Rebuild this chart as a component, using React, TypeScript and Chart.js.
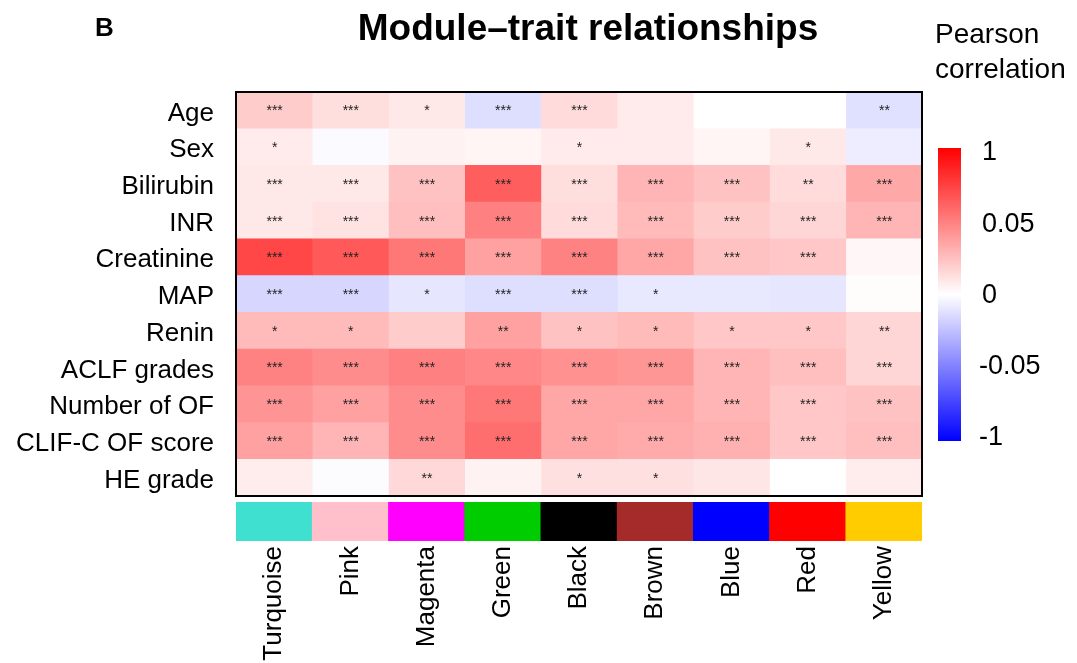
import React, { useEffect, useRef } from 'react';
import { Chart, registerables } from 'chart.js';
Chart.register(...registerables);

const FONT = '"Liberation Sans", Arial, Helvetica, sans-serif';

const modules = ['Turquoise', 'Pink', 'Magenta', 'Green', 'Black', 'Brown', 'Blue', 'Red', 'Yellow'];
const moduleColors = ['#40E0D0', '#FFC0CB', '#FF00FF', '#00CD00', '#000000', '#A52A2A', '#0000FF', '#FF0000', '#FFCC00'];
const traits = ['Age', 'Sex', 'Bilirubin', 'INR', 'Creatinine', 'MAP', 'Renin', 'ACLF grades', 'Number of OF', 'CLIF-C OF score', 'HE grade'];

// colour-scale position (-1 .. 1) of each cell, one array per trait, columns in module order
const corrAge = [0.2, 0.13, 0.09, -0.13, 0.14, 0.08, 0, 0, -0.12];
const corrSex = [0.08, -0.02, 0.05, 0.04, 0.08, 0.08, 0.04, 0.09, -0.07];
const corrBilirubin = [0.09, 0.09, 0.24, 0.63, 0.13, 0.29, 0.24, 0.14, 0.34];
const corrINR = [0.09, 0.11, 0.25, 0.5, 0.14, 0.27, 0.2, 0.16, 0.29];
const corrCreatinine = [0.72, 0.65, 0.53, 0.37, 0.49, 0.35, 0.24, 0.22, 0.03];
const corrMAP = [-0.16, -0.16, -0.1, -0.13, -0.13, -0.09, -0.09, -0.1, 0.01];
const corrRenin = [0.27, 0.27, 0.2, 0.37, 0.24, 0.27, 0.22, 0.22, 0.16];
const corrACLF = [0.49, 0.45, 0.5, 0.47, 0.43, 0.41, 0.29, 0.25, 0.16];
const corrNumOF = [0.42, 0.37, 0.45, 0.53, 0.35, 0.35, 0.29, 0.22, 0.24];
const corrCLIF = [0.37, 0.29, 0.45, 0.57, 0.35, 0.33, 0.31, 0.22, 0.25];
const corrHE = [0.07, -0.01, 0.15, 0.05, 0.12, 0.12, 0.1, 0, 0.07];

const starsAge = ['***', '***', '*', '***', '***', '', '', '', '**'];
const starsSex = ['*', '', '', '', '*', '', '', '*', ''];
const starsBilirubin = ['***', '***', '***', '***', '***', '***', '***', '**', '***'];
const starsINR = ['***', '***', '***', '***', '***', '***', '***', '***', '***'];
const starsCreatinine = ['***', '***', '***', '***', '***', '***', '***', '***', ''];
const starsMAP = ['***', '***', '*', '***', '***', '*', '', '', ''];
const starsRenin = ['*', '*', '', '**', '*', '*', '*', '*', '**'];
const starsACLF = ['***', '***', '***', '***', '***', '***', '***', '***', '***'];
const starsNumOF = ['***', '***', '***', '***', '***', '***', '***', '***', '***'];
const starsCLIF = ['***', '***', '***', '***', '***', '***', '***', '***', '***'];
const starsHE = ['', '', '**', '', '*', '*', '', '', ''];

const colorbarTickLabels = ['1', '0.05', '0', '-0.05', '-1'];
const colorbarTickPositions = [1, 0.5, 0, -0.5, -1];

const corrRows = [corrAge, corrSex, corrBilirubin, corrINR, corrCreatinine, corrMAP, corrRenin, corrACLF, corrNumOF, corrCLIF, corrHE];
const starRows = [starsAge, starsSex, starsBilirubin, starsINR, starsCreatinine, starsMAP, starsRenin, starsACLF, starsNumOF, starsCLIF, starsHE];

function colorFor(t: number): string {
  if (t >= 0) {
    const v = Math.round(255 * (1 - t));
    return `rgb(255,${v},${v})`;
  }
  const v = Math.round(255 * (1 + t));
  return `rgb(${v},${v},255)`;
}

const W = 1077;
const H = 663;

export default function App() {
  const heatRef = useRef<HTMLCanvasElement | null>(null);
  const stripRef = useRef<HTMLCanvasElement | null>(null);

  useEffect(() => {
    const decor = {
      id: 'decor',
      afterDraw(chart: any) {
        const { ctx, chartArea, scales } = chart;
        const xs = scales.x;
        const ys = scales.y;
        ctx.save();
        // stars
        ctx.fillStyle = '#222';
        ctx.font = `14px ${FONT}`;
        ctx.textAlign = 'center';
        ctx.textBaseline = 'alphabetic';
        starRows.forEach((row, r) => {
          row.forEach((s, j) => {
            if (!s) return;
            const x = xs.getPixelForValue(j + 0.5);
            const y = ys.getPixelForValue(r);
            ctx.fillText(s, x + 0.5, y + 5);
          });
        });
        // border
        ctx.strokeStyle = '#000';
        ctx.lineWidth = 2;
        ctx.strokeRect(chartArea.left, chartArea.top, chartArea.right - chartArea.left, chartArea.bottom - chartArea.top);
        // title
        ctx.fillStyle = '#000';
        ctx.textAlign = 'center';
        ctx.font = `bold 37px ${FONT}`;
        ctx.fillText('Module\u2013trait relationships', 588, 40);
        ctx.textAlign = 'left';
        ctx.font = `bold 26px ${FONT}`;
        ctx.fillText('B', 95, 36);
        // legend title
        ctx.font = `28px ${FONT}`;
        ctx.fillText('Pearson', 935, 43);
        ctx.fillText('correlation', 935, 78);
        // colour bar
        const cbTop = 148, cbBottom = 441, cbLeft = 938, cbRight = 961;
        const g = ctx.createLinearGradient(0, cbTop, 0, cbBottom);
        g.addColorStop(0, colorFor(1));
        g.addColorStop(0.5, colorFor(0));
        g.addColorStop(1, colorFor(-1));
        ctx.fillStyle = g;
        ctx.fillRect(cbLeft, cbTop, cbRight - cbLeft, cbBottom - cbTop);
        ctx.fillStyle = '#000';
        ctx.font = `27px ${FONT}`;
        ctx.textBaseline = 'middle';
        const mid = (cbTop + cbBottom) / 2;
        const half = (cbBottom - cbTop) / 2 - 4;
        colorbarTickLabels.forEach((lab, i) => {
          const y = mid - colorbarTickPositions[i] * half;
          const x = lab.startsWith('-') ? 979 : 982;
          ctx.fillText(lab, x, y + 1);
        });
        ctx.restore();
      },
    };

    const datasets = modules.map((m, j) => ({
      label: m,
      data: traits.map(() => [j, j + 1]),
      backgroundColor: corrRows.map((row) => colorFor(row[j])),
      borderWidth: 0,
      grouped: false,
      barPercentage: 1,
      categoryPercentage: 1,
    }));

    const heat = new Chart(heatRef.current as HTMLCanvasElement, {
      type: 'bar',
      data: { labels: traits, datasets: datasets as any },
      options: {
        indexAxis: 'y',
        responsive: false,
        animation: false,
        layout: { padding: { left: 0, top: 92, right: W - 922, bottom: H - 496 } },
        plugins: { legend: { display: false }, tooltip: { enabled: false }, title: { display: false } },
        scales: {
          x: { type: 'linear', min: 0, max: modules.length, display: false },
          y: {
            type: 'category',
            offset: true,
            grid: { display: false, drawTicks: false },
            border: { display: false },
            ticks: { color: '#000', font: { family: FONT, size: 26 }, padding: 22, autoSkip: false, labelOffset: 3 },
            afterFit: (s: any) => {
              s.width = 236;
            },
          },
        },
      } as any,
      plugins: [decor],
    });

    const strip = new Chart(stripRef.current as HTMLCanvasElement, {
      type: 'bar',
      data: {
        labels: modules,
        datasets: [
          {
            data: modules.map(() => 1),
            backgroundColor: moduleColors,
            borderWidth: 0,
            barPercentage: 1,
            categoryPercentage: 1,
          },
        ],
      },
      options: {
        responsive: false,
        animation: false,
        layout: { padding: { left: 236, top: 502, right: W - 922, bottom: 0 } },
        plugins: { legend: { display: false }, tooltip: { enabled: false } },
        scales: {
          y: { min: 0, max: 1, display: false },
          x: {
            grid: { display: false, drawTicks: false },
            border: { display: false },
            ticks: {
              color: '#000',
              font: { family: FONT, size: 26 },
              maxRotation: 90,
              minRotation: 90,
              padding: 5,
              autoSkip: false,
            },
            afterFit: (s: any) => {
              s.height = H - 541;
            },
          },
        },
      } as any,
    });

    return () => {
      heat.destroy();
      strip.destroy();
    };
  }, []);

  return (
    <div style={{ position: 'fixed', left: 0, top: 0, width: W, height: H, background: '#fff' }}>
      <canvas ref={heatRef} width={W} height={H} style={{ position: 'absolute', left: 0, top: 0 }} />
      <canvas ref={stripRef} width={W} height={H} style={{ position: 'absolute', left: 0, top: 0, pointerEvents: 'none' }} />
    </div>
  );
}
